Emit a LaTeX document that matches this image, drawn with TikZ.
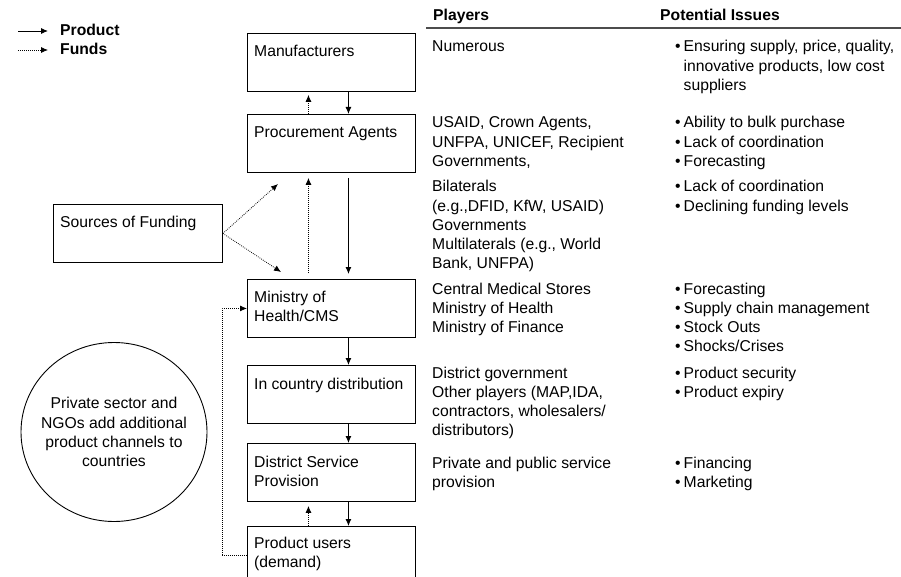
\documentclass[tikz,border=0pt]{standalone}
\usepackage{fontspec}
\setmainfont{Liberation Sans}
\usetikzlibrary{arrows.meta,shapes.geometric}
\newcommand{\bodysize}{\fontsize{15.7}{19.2}\selectfont}
\begin{document}
\begin{tikzpicture}[x=1pt,y=-1pt,
  every node/.style={font=\bodysize},
  box/.style={draw, line width=0.9pt, minimum width=168pt, minimum height=58pt,
    inner sep=0pt, anchor=north west},
  boxtext/.style={anchor=base west, inner sep=0pt},
  coltext/.style={anchor=base west, inner sep=0pt},
  headtext/.style={anchor=base west, inner sep=0pt, font=\bodysize\bfseries},
  product/.style={line width=0.9pt, -{Latex[length=7pt,width=6pt]}},
  funds/.style={line width=0.8pt, dash pattern=on 0.8pt off 1.2pt,
    -{Latex[length=7pt,width=6pt]}},
  rule/.style={line width=1.4pt, black!70}]
\useasboundingbox (0,0) rectangle (901,577);

% legend
\coordinate (lpa) at (18,31);  \coordinate (lpb) at (48,31);
\coordinate (lfa) at (18,50);  \coordinate (lfb) at (48,50);
\draw[product] (lpa) -- (lpb);
\draw[funds] (lfa) -- (lfb);
\node[headtext] (lprod) at (60,36) {Product};
\node[headtext] (lfund) at (60,55) {Funds};

% column headings
\node[headtext] (hplay) at (433,20.5) {Players};
\node[headtext] (hiss) at (660,20.5) {Potential Issues};
\coordinate (rla) at (426,28); \coordinate (rlb) at (901,28);
\draw[rule] (rla) -- (rlb);

% supply chain boxes
\node[box] (man) at (247,33) {};
\node[box] (proc) at (247,114) {};
\node[box, minimum width=169pt] (src) at (53,204) {};
\node[box] (min) at (247,279) {};
\node[box] (inc) at (247,365) {};
\node[box] (dsp) at (247,443) {};
\node[box] (pu) at (247,526) {};

\node[boxtext] (mant) at ([xshift=7pt,yshift=-24pt]man.north west) {Manufacturers};
\node[boxtext] (proct) at ([xshift=7pt,yshift=-24pt]proc.north west) {Procurement Agents};
\node[boxtext] (srct) at ([xshift=7pt,yshift=-24pt]src.north west) {Sources of Funding};
\node[boxtext] (mint) at ([xshift=7pt,yshift=-23pt]min.north west)
  {\begin{tabular}[t]{@{}l@{}}Ministry of\\Health/CMS\end{tabular}};
\node[boxtext] (inct) at ([xshift=7pt,yshift=-24pt]inc.north west) {In country distribution};
\node[boxtext] (dspt) at ([xshift=7pt,yshift=-24pt]dsp.north west)
  {\begin{tabular}[t]{@{}l@{}}District Service\\Provision\end{tabular}};
\node[boxtext] (put) at ([xshift=7pt,yshift=-22pt]pu.north west)
  {\begin{tabular}[t]{@{}l@{}}Product users\\(demand)\end{tabular}};

% private sector bubble
\node[ellipse, draw, line width=0.9pt, minimum width=186pt, minimum height=179pt,
  inner sep=-12pt, align=center] (priv) at (114,432)
  {Private sector and\\NGOs add additional\\product channels to\\countries};

% product flow
\draw[product] ([xshift=17pt]man.south) -- ([xshift=17pt]proc.north);
\draw[product, shorten <=5pt, shorten >=5pt] ([xshift=17pt]proc.south) -- ([xshift=17pt]min.north);
\draw[product] ([xshift=17pt]min.south) -- ([xshift=17pt]inc.north);
\draw[product] ([xshift=17pt]inc.south) -- ([xshift=17pt]dsp.north);
\draw[product] ([xshift=17pt]dsp.south) -- ([xshift=17pt]pu.north);

% funds flow
\coordinate (fa1) at (278,184);
\coordinate (fa2) at (281,272);
\draw[funds] (src.east) -- (fa1);
\draw[funds] (src.east) -- (fa2);
\draw[funds, shorten >=3pt] ([xshift=-23pt]proc.north) -- ([xshift=-23pt]man.south);
\draw[funds, shorten <=6pt, shorten >=5pt] ([xshift=-23pt]min.north) -- ([xshift=-23pt]proc.south);
\draw[funds, shorten >=4pt] ([xshift=-23pt]pu.north) -- ([xshift=-23pt]dsp.south);
\draw[funds] (pu.west) -- ++(-25,0) |- (min.west);

% players column
\node[coltext] (p1) at (432,52) {Numerous};
\node[coltext] (p2) at (432,128) {\begin{tabular}[t]{@{}l@{}}USAID, Crown Agents,\\UNFPA, UNICEF, Recipient\\Governments,\end{tabular}};
\node[coltext] (p3) at (432,192) {\begin{tabular}[t]{@{}l@{}}Bilaterals\\(e.g.,DFID, KfW, USAID)\\Governments\\Multilaterals (e.g., World\\Bank, UNFPA)\end{tabular}};
\node[coltext] (p4) at (432,294) {\begin{tabular}[t]{@{}l@{}}Central Medical Stores\\Ministry of Health\\Ministry of Finance\end{tabular}};
\node[coltext] (p5) at (432,378) {\begin{tabular}[t]{@{}l@{}}District government\\Other players (MAP,IDA,\\contractors, wholesalers/\\distributors)\end{tabular}};
\node[coltext] (p6) at (432,468) {\begin{tabular}[t]{@{}l@{}}Private and public service\\provision\end{tabular}};

% issues column
\node[coltext] (i1) at (675,52) {\begin{tabular}[t]{@{}l@{\hspace{3pt}}l@{}}\textbullet & Ensuring supply, price, quality,\\ & innovative products, low cost\\ & suppliers\end{tabular}};
\node[coltext] (i2) at (675,128) {\begin{tabular}[t]{@{}l@{\hspace{3pt}}l@{}}\textbullet & Ability to bulk purchase\\\textbullet & Lack of coordination\\\textbullet & Forecasting\end{tabular}};
\node[coltext] (i3) at (675,192) {\begin{tabular}[t]{@{}l@{\hspace{3pt}}l@{}}\textbullet & Lack of coordination\\\textbullet & Declining funding levels\end{tabular}};
\node[coltext] (i4) at (675,294) {\begin{tabular}[t]{@{}l@{\hspace{3pt}}l@{}}\textbullet & Forecasting\\\textbullet & Supply chain management\\\textbullet & Stock Outs\\\textbullet & Shocks/Crises\end{tabular}};
\node[coltext] (i5) at (675,378) {\begin{tabular}[t]{@{}l@{\hspace{3pt}}l@{}}\textbullet & Product security\\\textbullet & Product expiry\end{tabular}};
\node[coltext] (i6) at (675,468) {\begin{tabular}[t]{@{}l@{\hspace{3pt}}l@{}}\textbullet & Financing\\\textbullet & Marketing\end{tabular}};
\end{tikzpicture}
\end{document}
